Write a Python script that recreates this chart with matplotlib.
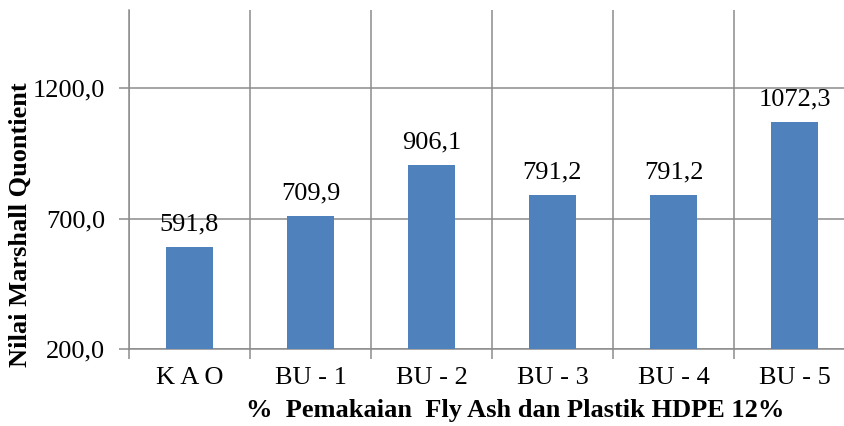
import matplotlib.pyplot as plt
import numpy as np

categories = ['K A O', 'BU - 1', 'BU - 2', 'BU - 3', 'BU - 4', 'BU - 5']
values = [591.8, 709.9, 906.1, 791.2, 791.2, 1072.3]
y_ticks = [200, 700, 1200]

plt.rcParams['font.family'] = ['Liberation Serif', 'DejaVu Serif']
fs = 19

fig = plt.figure(figsize=(8.44, 4.26), dpi=100)
# plot area runs past the right edge, as in the reference
ax = fig.add_axes([129 / 844, 77 / 426, 726 / 844, 339 / 426])

grid_color = '#8c8c8c'
x = np.arange(len(categories))
bars = ax.bar(x, values, width=0.39, color='#4F81BD', zorder=3)

ax.set_xlim(-0.5, len(categories) - 0.5)
ax.set_ylim(200, 1500)
ax.set_yticks(y_ticks)
ax.set_yticklabels([f'{v:.1f}'.replace('.', ',') for v in y_ticks], fontsize=fs)

# category boundaries carry the ticks and vertical gridlines
ax.set_xticks(np.arange(len(categories) + 1) - 0.5)
ax.set_xticklabels([])
ax.set_xticks(x, minor=True)
ax.set_xticklabels(categories, minor=True, fontsize=fs)
ax.tick_params(axis='x', which='minor', length=0, pad=13)
ax.tick_params(axis='x', which='major', length=7, width=1.1, color=grid_color)
ax.tick_params(axis='y', length=7, width=1.1, color=grid_color, pad=10)

ax.grid(True, which='major', color=grid_color, linewidth=1.1, zorder=0)
for side in ['top', 'right']:
    ax.spines[side].set_visible(False)
for side in ['left', 'bottom']:
    ax.spines[side].set_color(grid_color)
    ax.spines[side].set_linewidth(1.1)

for xi, v in zip(x, values):
    ax.annotate(f'{v:.1f}'.replace('.', ','), (xi, v), xytext=(0, 8),
                textcoords='offset points', ha='center', va='bottom', fontsize=fs)

fig.text(20 / 844, 1 - 225 / 426, 'Nilai Marshall Quontient', rotation=90,
         ha='center', va='center', fontsize=fs, fontweight='bold')
fig.text(515 / 844, 1 - 410 / 426, '%  Pemakaian  Fly Ash dan Plastik HDPE 12%',
         ha='center', va='center', fontsize=fs, fontweight='bold')

fig.savefig('out.png', dpi=100)
